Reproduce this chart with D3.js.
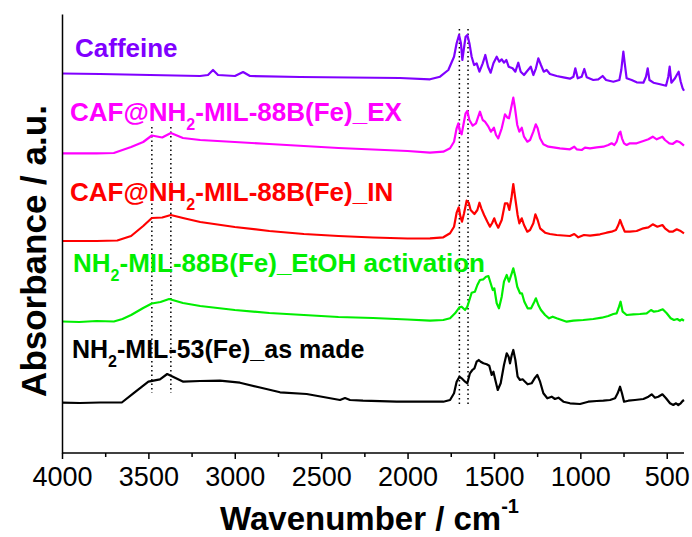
<!DOCTYPE html>
<html><head><meta charset="utf-8">
<script src="https://cdn.jsdelivr.net/npm/d3@7"></script>
<style>html,body{margin:0;padding:0;background:#fff;}svg{display:block;}</style>
</head><body><svg id="c" width="692" height="537"></svg>
<script>
// ---- data (wavenumber cm-1, absorbance a.u., stacked) ----
const caffeine = [[4000,3.795],[3780,3.79],[3491,3.78],[3201,3.77],[3155,3.78],[3126,3.83],[3097,3.78],[2999,3.77],[2952,3.81],[2912,3.77],[2622,3.76],[2333,3.755],[2044,3.75],[1870,3.737],[1812,3.763],[1764,3.83],[1731,3.963],[1716,4.097],[1702,4.18],[1691,4.097],[1683,3.93],[1675,4.03],[1664,4.163],[1654,4.18],[1642,4.097],[1629,3.963],[1615,3.88],[1600,3.897],[1584,3.813],[1565,3.897],[1550,3.98],[1534,3.863],[1519,3.803],[1503,3.897],[1484,3.963],[1469,3.913],[1455,3.937],[1442,3.903],[1428,3.93],[1415,3.863],[1392,3.847],[1376,3.813],[1359,3.903],[1345,3.813],[1326,3.78],[1311,3.813],[1287,3.863],[1272,3.78],[1257,3.847],[1243,3.947],[1228,3.88],[1212,3.813],[1195,3.83],[1176,3.79],[1137,3.77],[1098,3.757],[1060,3.743],[1040,3.763],[1029,3.847],[1015,3.747],[992,3.763],[977,3.84],[963,3.757],[925,3.73],[896,3.737],[871,3.77],[851,3.73],[809,3.713],[774,3.73],[763,3.83],[751,4.013],[743,3.897],[732,3.747],[703,3.73],[674,3.707],[635,3.703],[620,3.763],[610,3.847],[600,3.73],[577,3.703],[539,3.687],[504,3.673],[491,3.763],[483,3.863],[473,3.703],[452,3.747],[442,3.78],[431,3.813],[419,3.713],[408,3.647],[400,3.623]];
const cafEx = [[4000,2.997],[3800,2.997],[3700,3.0],[3600,3.06],[3530,3.11],[3480,3.175],[3420,3.155],[3370,3.2],[3300,3.15],[3200,3.13],[3000,3.11],[2800,3.09],[2600,3.07],[2400,3.05],[2200,3.035],[2000,3.02],[1870,3.003],[1793,3.013],[1754,3.047],[1731,3.113],[1716,3.247],[1706,3.297],[1696,3.213],[1687,3.187],[1677,3.28],[1664,3.397],[1654,3.42],[1642,3.33],[1623,3.273],[1604,3.297],[1581,3.413],[1565,3.33],[1552,3.313],[1532,3.263],[1517,3.213],[1500,3.253],[1488,3.18],[1475,3.147],[1455,3.247],[1436,3.387],[1422,3.353],[1413,3.347],[1401,3.447],[1388,3.553],[1378,3.447],[1365,3.28],[1353,3.213],[1339,3.253],[1326,3.163],[1307,3.113],[1291,3.13],[1272,3.213],[1258,3.287],[1247,3.247],[1233,3.147],[1214,3.087],[1185,3.063],[1156,3.057],[1118,3.047],[1060,3.037],[1035,3.063],[1021,3.037],[992,3.03],[973,3.053],[944,3.047],[905,3.057],[867,3.063],[838,3.08],[819,3.097],[803,3.08],[790,3.113],[776,3.197],[768,3.213],[759,3.147],[747,3.097],[732,3.08],[713,3.097],[674,3.097],[635,3.12],[606,3.137],[581,3.163],[558,3.137],[525,3.163],[510,3.13],[485,3.097],[466,3.09],[442,3.12],[423,3.107],[400,3.073]];
const cafIn = [[4000,2.12],[3800,2.12],[3680,2.125],[3600,2.17],[3530,2.27],[3480,2.35],[3420,2.355],[3370,2.38],[3300,2.35],[3200,2.31],[3000,2.26],[2800,2.22],[2600,2.19],[2400,2.17],[2200,2.155],[2000,2.145],[1870,2.147],[1793,2.157],[1754,2.197],[1731,2.263],[1716,2.403],[1704,2.457],[1694,2.363],[1685,2.313],[1673,2.397],[1658,2.523],[1646,2.503],[1635,2.43],[1613,2.39],[1596,2.43],[1584,2.503],[1573,2.447],[1557,2.38],[1538,2.313],[1523,2.263],[1511,2.297],[1498,2.347],[1488,2.297],[1475,2.253],[1455,2.33],[1436,2.497],[1422,2.497],[1411,2.43],[1399,2.547],[1388,2.69],[1378,2.563],[1363,2.38],[1353,2.297],[1339,2.347],[1326,2.28],[1307,2.213],[1291,2.23],[1272,2.297],[1260,2.387],[1247,2.33],[1233,2.247],[1204,2.203],[1176,2.19],[1137,2.18],[1060,2.17],[1035,2.19],[1012,2.157],[979,2.18],[944,2.173],[886,2.187],[848,2.203],[819,2.213],[794,2.23],[780,2.28],[770,2.33],[759,2.28],[743,2.213],[713,2.213],[674,2.22],[635,2.247],[606,2.257],[581,2.287],[554,2.263],[525,2.28],[510,2.247],[485,2.213],[466,2.213],[442,2.237],[423,2.223],[400,2.197]];
const mil88Etoh = [[4000,1.315],[3900,1.31],[3800,1.32],[3700,1.315],[3650,1.34],[3600,1.38],[3530,1.45],[3480,1.495],[3430,1.51],[3380,1.54],[3300,1.5],[3200,1.47],[3000,1.43],[2800,1.40],[2600,1.38],[2400,1.36],[2200,1.35],[2000,1.335],[1870,1.323],[1793,1.33],[1754,1.347],[1725,1.397],[1700,1.457],[1687,1.463],[1667,1.43],[1654,1.463],[1642,1.53],[1629,1.603],[1610,1.613],[1596,1.68],[1581,1.73],[1561,1.737],[1546,1.763],[1532,1.77],[1519,1.697],[1507,1.63],[1498,1.647],[1484,1.497],[1471,1.447],[1455,1.563],[1442,1.713],[1426,1.78],[1413,1.713],[1397,1.797],[1388,1.847],[1376,1.763],[1365,1.663],[1349,1.597],[1338,1.597],[1324,1.513],[1305,1.447],[1285,1.447],[1266,1.513],[1257,1.547],[1243,1.48],[1228,1.43],[1204,1.38],[1181,1.347],[1160,1.363],[1137,1.347],[1108,1.33],[1079,1.313],[1040,1.323],[983,1.33],[925,1.34],[876,1.353],[838,1.37],[809,1.39],[790,1.397],[776,1.463],[767,1.513],[755,1.413],[732,1.38],[693,1.387],[655,1.39],[616,1.397],[591,1.43],[574,1.413],[549,1.42],[523,1.437],[500,1.397],[477,1.347],[458,1.33],[439,1.34],[423,1.323],[413,1.337],[400,1.323]];
const mil53 = [[4000,0.503],[3896,0.50],[3780,0.505],[3654,0.505],[3587,0.597],[3500,0.713],[3433,0.737],[3391,0.79],[3298,0.713],[3201,0.72],[3086,0.723],[2970,0.703],[2854,0.655],[2738,0.607],[2584,0.59],[2391,0.53],[2362,0.55],[2333,0.53],[2258,0.523],[2063,0.513],[1870,0.513],[1793,0.513],[1754,0.53],[1731,0.597],[1716,0.713],[1700,0.763],[1687,0.747],[1667,0.713],[1654,0.697],[1639,0.797],[1625,0.83],[1613,0.847],[1600,0.913],[1588,0.93],[1577,0.913],[1561,0.897],[1542,0.887],[1527,0.873],[1513,0.78],[1503,0.813],[1492,0.73],[1478,0.63],[1461,0.697],[1442,0.88],[1426,0.997],[1415,0.963],[1407,0.897],[1397,0.98],[1388,1.03],[1376,0.93],[1363,0.763],[1349,0.73],[1334,0.737],[1320,0.713],[1305,0.687],[1282,0.697],[1262,0.753],[1249,0.78],[1233,0.713],[1214,0.597],[1191,0.547],[1166,0.563],[1147,0.54],[1127,0.553],[1098,0.513],[1060,0.497],[1002,0.49],[954,0.513],[905,0.52],[867,0.523],[828,0.53],[799,0.547],[784,0.597],[770,0.663],[759,0.597],[747,0.513],[722,0.523],[684,0.53],[635,0.54],[606,0.563],[587,0.587],[568,0.553],[549,0.563],[525,0.587],[504,0.547],[481,0.497],[462,0.48],[446,0.497],[433,0.48],[419,0.497],[408,0.52],[400,0.53]];

const seriesNames = ["Caffeine","CAF@NH2-MIL-88B(Fe)_EX","CAF@NH2-MIL-88B(Fe)_IN","NH2-MIL-88B(Fe)_EtOH activation","NH2-MIL-53(Fe)_as made"];
const seriesColors = ["#8000ff","#ff00ff","#ff0000","#00ee00","#000000"];
const seriesData = [caffeine, cafEx, cafIn, mil88Etoh, mil53];

// dotted guide lines: wavenumber, from / to absorbance
const guideWn = [3480, 3370, 1700, 1650];
const guideTop = [3.26, 3.26, 4.24, 4.24];
const guideBottom = [0.60, 0.60, 0.48, 0.48];

const xTicksMajor = [4000,3500,3000,2500,2000,1500,1000,500];
const xTicksMinor = [3750,3250,2750,2250,1750,1250,750];

// ---- layout ----
const svg = d3.select("#c");
const L = 62, R = 684, T = 14, B = 453;
const FONT = "'Liberation Sans', Arial, Helvetica, sans-serif";
const x = d3.scaleLinear().domain([4000, 400]).range([L, R]);
const y = d3.scaleLinear().domain([0, 4.39]).range([B, T]);

// guides
guideWn.forEach((w,i)=>{
  svg.append("line").attr("x1",x(w)).attr("x2",x(w)).attr("y1",y(guideTop[i])).attr("y2",y(guideBottom[i]))
    .attr("stroke","#000").attr("stroke-width",1.5).attr("stroke-dasharray","1.5,3");
});

// spectra
const line = d3.line().x(d=>x(d[0])).y(d=>y(d[1]));
seriesData.forEach((s,i)=>{
  svg.append("path").datum(s).attr("d",line).attr("fill","none")
    .attr("stroke",seriesColors[i]).attr("stroke-width",2.2).attr("stroke-linejoin","round");
});

// axes
const xAxis = d3.axisBottom(x).tickValues(xTicksMajor).tickSize(6).tickPadding(8).tickFormat(d3.format("d"));
const gx = svg.append("g").attr("transform",`translate(0,${B})`).call(xAxis);
gx.select(".domain").attr("stroke-width",1.5).attr("d",`M${L},0H${R}`);
gx.selectAll(".tick line").attr("stroke-width",1.5);
gx.selectAll(".tick text").attr("font-family",FONT).attr("font-size",27).attr("fill","#000").attr("dy","0.71em");
const gxm = svg.append("g").attr("transform",`translate(0,${B})`)
  .call(d3.axisBottom(x).tickValues(xTicksMinor).tickSize(4).tickFormat(""));
gxm.select(".domain").remove();
gxm.selectAll(".tick line").attr("stroke-width",1.5);

const gy = svg.append("g").attr("transform",`translate(${L},0)`).call(d3.axisLeft(y).tickValues([]).tickSize(0));
gy.select(".domain").attr("stroke-width",1.5);

// axis titles
const xt = svg.append("text").attr("x",220).attr("y",530).attr("font-family",FONT).attr("font-weight","bold").attr("font-size",33).attr("fill","#000");
xt.append("tspan").text("Wavenumber / cm");
xt.append("tspan").attr("font-size",20).attr("dy",-17).text("-1");

svg.append("text").attr("transform","translate(46,251) rotate(-90)").attr("text-anchor","middle")
  .attr("font-family",FONT).attr("font-weight","bold").attr("font-size",35).attr("fill","#000").text("Absorbance / a.u.");

// series labels
const labelX = [75, 70, 70, 73, 72];
const labelY = [57, 121, 201, 272, 358];
const labelSize = [26, 26, 26, 26, 25];
seriesNames.forEach((name,i)=>{
  const t = svg.append("text").attr("x",labelX[i]).attr("y",labelY[i]).attr("font-family",FONT)
    .attr("font-weight","bold").attr("font-size",labelSize[i]).attr("fill",seriesColors[i]);
  const parts = name.split("NH2");
  parts.forEach((p,j)=>{
    if(j>0){
      t.append("tspan").text("NH");
      t.append("tspan").attr("font-size",16).attr("dy",9).text("2");
      t.append("tspan").attr("dy",-9).text(p);
    } else if(p) t.append("tspan").text(p);
  });
});
</script></body></html>
